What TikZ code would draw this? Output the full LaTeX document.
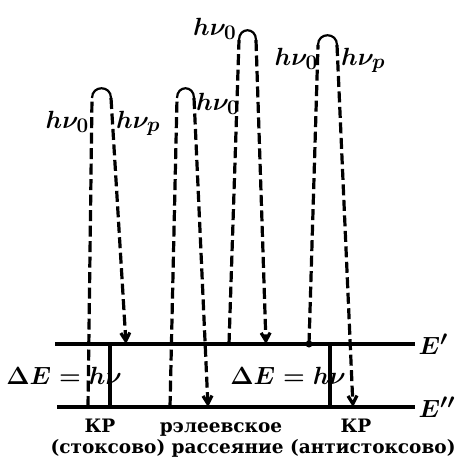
\documentclass[tikz,border=0pt]{standalone}
\usepackage{amsmath}
\usepackage{fontspec}
\setmainfont{Liberation Serif}
\newfontfamily\capfont{DejaVu Serif}
\usepackage{tikz}
\usetikzlibrary{arrows.meta}
\tikzset{level/.style={line width=3.2pt},
  leg/.style={line width=3.2pt, dash pattern=on 11pt off 4.5pt},
  arctop/.style={line width=2.2pt},
  photon/.style={font=\fontsize{28}{30}\selectfont\boldmath},
  caption/.style={font=\capfont\fontsize{18.5}{21}\selectfont\bfseries, inner sep=0}}

\begin{document}
\begin{tikzpicture}[x=1pt, y=-1pt, >={Straight Barb[length=8pt,width=9pt]}]
\useasboundingbox (0,0) rectangle (462,461);
% levels
\draw[level] (55,344)--(415,344) node[right, photon, inner sep=2pt] (Eup) {$E'$};
\draw[level] (57,407)--(415,407) node[right, photon, inner sep=2pt] (Edown) {$E''$};
\draw[level] (110,344)--(110,407);
\draw[level] (330,344)--(330,407);
\fill (309,344) circle (3.5pt);
% transitions: bottom, top left, top right, end
\foreach \xa/\ya/\xb/\yb/\xc/\xd/\yd in {88/407/92/98/111/126/344, 170/407/177/98/194/208/407,
    229/344/239/40/256/266/344, 309/344/318/45/337/353/407} {
  \draw[leg] (\xa,\ya)--(\xb,\yb);
  \draw[arctop] (\xb,\yb) .. controls +(0,-13) and +(0,-13) .. (\xc,\yb);
  \draw[leg,->] (\xc,\yb)--(\xd,\yd);
}
% photons
\node[photon, anchor=base east, inner sep=0] (p1) at (89,128) {$h\nu_0$};
\node[photon, anchor=base west, inner sep=0] (p2) at (116,128) {$h\nu_p$};
\node[photon, anchor=base west, inner sep=0] (p3) at (196,110) {$h\nu_0$};
\node[photon, anchor=base west, inner sep=0] (p4) at (193,35) {$h\nu_0$};
\node[photon, anchor=base east, inner sep=0] (p5) at (318,65) {$h\nu_0$};
\node[photon, anchor=base west, inner sep=0] (p6) at (341,65) {$h\nu_p$};
\node[photon, anchor=base, inner sep=0] (d1) at (64,384) {$\Delta E = h\nu$};
\node[photon, anchor=base, inner sep=0] (d2) at (288,384) {$\Delta E = h\nu$};
% captions
\node[caption, anchor=base] (c1) at (100,432) {КР};
\node[caption, anchor=base] (c2) at (221,432) {рэлеевское};
\node[caption, anchor=base] (c3) at (356,432) {КР};
\node[caption, anchor=base] (c4) at (253,453) {(стоксово) рассеяние (антистоксово)};
\end{tikzpicture}
\end{document}
